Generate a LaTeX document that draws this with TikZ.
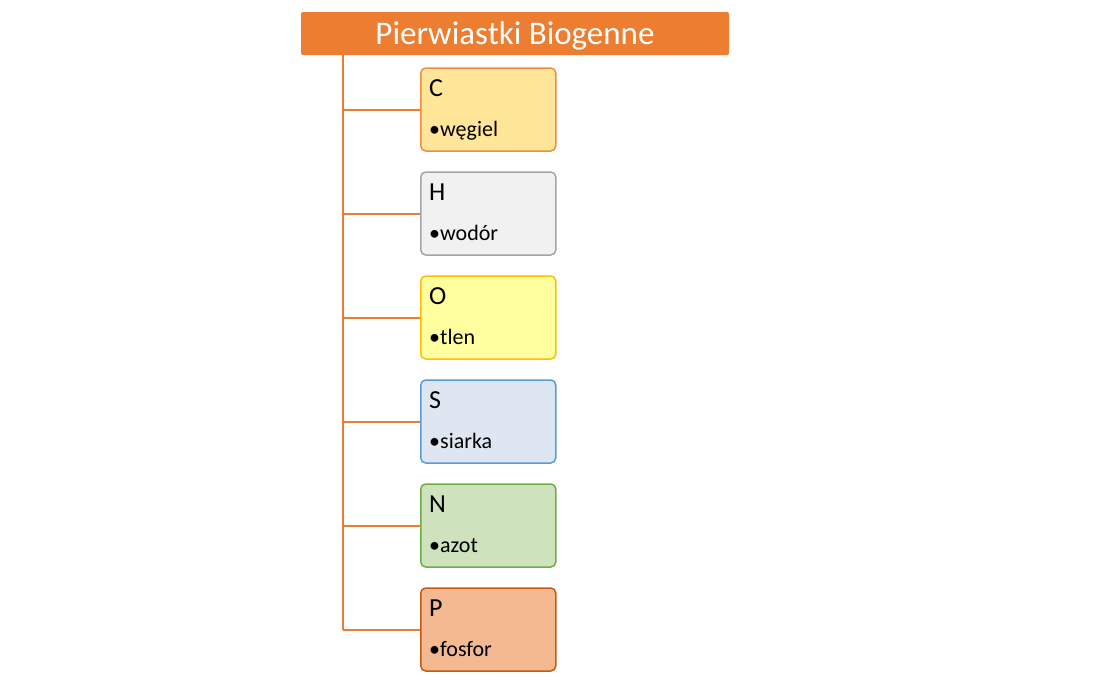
\documentclass[tikz,border=0pt]{standalone}
\usepackage{fontspec}
\setmainfont{Carlito}
\usetikzlibrary{positioning}

\definecolor{accent}{HTML}{ED7D31}

\begin{document}
\begin{tikzpicture}[x=1pt,y=-1pt,node distance=19.5pt,
                link/.style={draw=accent,line width=2pt},
                elem/.style={rectangle,rounded corners=5pt,line width=1.5pt,
                        minimum width=135pt,minimum height=83pt,inner sep=0pt},
                elemsym/.style={font=\fontsize{26}{30}\selectfont,inner sep=0pt,anchor=base west},
                elemname/.style={font=\fontsize{22}{26}\selectfont,inner sep=0pt,anchor=base west}]
                \useasboundingbox (0,0) rectangle (1101,680);
                \node[fill=accent,rounded corners=2pt,minimum width=428pt,minimum height=43pt,
                      inner sep=0pt,text height=21pt,text depth=0pt,text=white,
                      font=\fontsize{33}{38}\selectfont] (title) at (515,33.5) {Pierwiastki Biogenne};
                \node[elem,draw={rgb,255:red,241;green,140;blue,64},fill={rgb,255:red,255;green,230;blue,153},
                      anchor=north west] (c) at (420,67.25) {};
                \node[elem,draw={rgb,255:red,165;green,165;blue,165},fill={rgb,255:red,241;green,241;blue,241}] (h) [below=of c] {};
                \node[elem,draw={rgb,255:red,255;green,192;blue,0},fill={rgb,255:red,255;green,255;blue,159}] (o) [below=of h] {};
                \node[elem,draw={rgb,255:red,91;green,155;blue,213},fill={rgb,255:red,222;green,230;blue,242}] (s) [below=of o] {};
                \node[elem,draw={rgb,255:red,112;green,173;blue,71},fill={rgb,255:red,206;green,226;blue,189}] (n) [below=of s] {};
                \node[elem,draw={rgb,255:red,197;green,90;blue,17},fill={rgb,255:red,244;green,185;blue,144}] (p) [below=of n] {};

                \node[elemsym] (c-sym) at ([shift={(9,29.5)}]c.north west) {C};
                \node[elemname] (c-name) at ([shift={(9,69.5)}]c.north west) {•węgiel};
                \node[elemsym] (h-sym) at ([shift={(9,29.5)}]h.north west) {H};
                \node[elemname] (h-name) at ([shift={(9,69.5)}]h.north west) {•wodór};
                \node[elemsym] (o-sym) at ([shift={(9,29.5)}]o.north west) {O};
                \node[elemname] (o-name) at ([shift={(9,69.5)}]o.north west) {•tlen};
                \node[elemsym] (s-sym) at ([shift={(9,29.5)}]s.north west) {S};
                \node[elemname] (s-name) at ([shift={(9,69.5)}]s.north west) {•siarka};
                \node[elemsym] (n-sym) at ([shift={(9,29.5)}]n.north west) {N};
                \node[elemname] (n-name) at ([shift={(9,69.5)}]n.north west) {•azot};
                \node[elemsym] (p-sym) at ([shift={(9,29.5)}]p.north west) {P};
                \node[elemname] (p-name) at ([shift={(9,69.5)}]p.north west) {•fosfor};

                \coordinate (trunk) at (343,55);
                \draw[link] (trunk) -- (trunk |- p.west);
                \draw[link] (trunk |- c.west) -- (c.west);
                \draw[link] (trunk |- h.west) -- (h.west);
                \draw[link] (trunk |- o.west) -- (o.west);
                \draw[link] (trunk |- s.west) -- (s.west);
                \draw[link] (trunk |- n.west) -- (n.west);
                \draw[link] (trunk |- p.west) -- (p.west);
                \end{tikzpicture}
\end{document}
